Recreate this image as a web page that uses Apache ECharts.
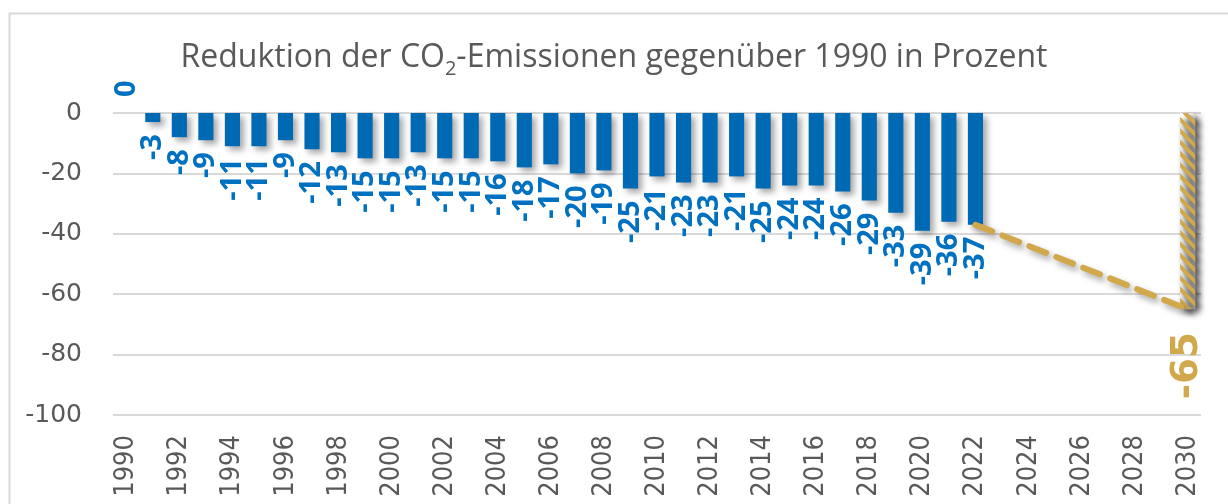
<!DOCTYPE html>
<html>
<head>
<meta charset="utf-8">
<script src="https://cdn.jsdelivr.net/npm/echarts@6/dist/echarts.min.js"></script>
<style>
  html, body { margin: 0; padding: 0; background: #fff; }
  #mychart { width: 1228px; height: 504px; }
</style>
</head>
<body>
<div id="mychart"></div>
<script>
// Jahre auf der x-Achse
let jahre = [];
for (let j = 1990; j <= 2030; j++) {
  jahre.push(String(j));
}

// Reduktion gegenüber 1990 in Prozent (1990 - 2022)
let istJahre = ['1990', '1991', '1992', '1993', '1994', '1995', '1996', '1997', '1998', '1999',
  '2000', '2001', '2002', '2003', '2004', '2005', '2006', '2007', '2008', '2009',
  '2010', '2011', '2012', '2013', '2014', '2015', '2016', '2017', '2018', '2019',
  '2020', '2021', '2022'];
let istWerte = [0, -3, -8, -9, -11, -11, -9, -12, -13, -15,
  -15, -13, -15, -15, -16, -18, -17, -20, -19, -25,
  -21, -23, -23, -21, -25, -24, -24, -26, -29, -33,
  -39, -36, -37];

// Ziel 2030
let zielJahr = '2030';
let zielWert = -65;

// Pfad vom letzten Istwert zum Ziel
let pfadJahre = ['2022', '2030'];
let pfadWerte = [-37, -65];

let yTicks = [0, -20, -40, -60, -80, -100];

let colors = {
  blue: '#0069B4',
  blueLabel: '#0070C0',
  gold: '#D1A84C',
  text: '#595959',
  grid: '#D9D9D9',
  shadow: 'rgba(0, 0, 0, 0.35)',
};

let myChart;

function buildIstData() {
  return jahre.map((y) => {
    let i = istJahre.indexOf(y);
    if (i < 0) return null;
    let v = istWerte[i];
    if (v === 0) {
      // 0-Wert steht über der Linie
      return {
        value: v,
        label: { position: 'top', align: 'left', distance: 15 },
      };
    }
    return v;
  });
}

function buildZielData() {
  return jahre.map((y) => (y === zielJahr ? zielWert : null));
}

function buildPfadData() {
  return jahre.map((y) => {
    let i = pfadJahre.indexOf(y);
    return i < 0 ? null : pfadWerte[i];
  });
}

let option = {
  animation: false,
  backgroundColor: '#fff',
  graphic: [
    {
      type: 'rect',
      left: 7,
      top: 11,
      shape: { width: 1240, height: 520 },
      style: { fill: 'none', stroke: colors.grid, lineWidth: 2 },
      silent: true,
    },
  ],
  title: {
    text: '{a|Reduktion der CO}{sub|2}{a|-Emissionen gegenüber 1990 in Prozent}',
    left: 'center',
    top: 32,
    textStyle: {
      fontWeight: 'normal',
      rich: {
        a: {
          fontFamily: 'Open Sans',
          fontWeight: 'normal',
          fontSize: 32,
          color: colors.text,
          lineHeight: 42,
        },
        sub: {
          fontFamily: 'Open Sans',
          fontWeight: 'normal',
          fontSize: 20,
          color: colors.text,
          lineHeight: 20,
          verticalAlign: 'bottom',
        },
      },
    },
  },
  grid: {
    left: 113,
    right: 27,
    top: 113,
    bottom: 89,
    containLabel: false,
  },
  xAxis: {
    type: 'category',
    data: jahre,
    axisLine: { show: false },
    axisTick: { show: false },
    axisLabel: {
      interval: 1,
      rotate: 90,
      margin: 20,
      color: colors.text,
      fontFamily: 'Liberation Sans Narrow, DejaVu Sans Condensed, Liberation Sans',
      fontSize: 27,
    },
  },
  yAxis: {
    type: 'value',
    min: yTicks[yTicks.length - 1],
    max: yTicks[0],
    interval: 20,
    axisLine: { show: false },
    axisTick: { show: false },
    axisLabel: {
      margin: 31,
      color: colors.text,
      fontFamily: 'DejaVu Sans',
      fontSize: 25,
    },
    splitLine: {
      lineStyle: { color: colors.grid, width: 2 },
    },
  },
  series: [
    {
      name: 'Ist',
      type: 'bar',
      stack: 'all',
      barWidth: '57%',
      data: buildIstData(),
      itemStyle: {
        color: colors.blue,
        shadowColor: colors.shadow,
        shadowBlur: 6,
        shadowOffsetX: 4,
        shadowOffsetY: 4,
      },
      label: {
        show: true,
        position: 'bottom',
        rotate: 90,
        align: 'right',
        verticalAlign: 'middle',
        distance: 13,
        offset: [1, 0],
        color: colors.blueLabel,
        fontFamily: 'Open Sans',
        fontWeight: 'bold',
        fontSize: 29,
      },
      z: 3,
    },
    {
      name: 'Ziel',
      type: 'bar',
      stack: 'all',
      barWidth: '62%',
      data: buildZielData(),
      itemStyle: {
        color: '#fff',
        shadowColor: colors.shadow,
        shadowBlur: 6,
        shadowOffsetX: 4,
        shadowOffsetY: 4,
        decal: {
          symbol: 'rect',
          color: colors.gold,
          dashArrayX: [1, 0],
          dashArrayY: [4, 4],
          rotation: Math.PI / 4,
        },
      },
      label: {
        show: true,
        position: 'bottom',
        rotate: 90,
        align: 'right',
        verticalAlign: 'middle',
        distance: 30,
        offset: [7, 0],
        color: colors.gold,
        fontFamily: 'DejaVu Sans',
        fontWeight: 'bold',
        fontSize: 37,
      },
      z: 3,
    },
    {
      name: 'Pfad',
      type: 'line',
      data: buildPfadData(),
      connectNulls: true,
      showSymbol: false,
      symbol: 'none',
      lineStyle: {
        color: colors.gold,
        width: 6,
        type: [18, 11],
        cap: 'round',
        shadowColor: colors.shadow,
        shadowBlur: 6,
        shadowOffsetX: 3,
        shadowOffsetY: 4,
      },
      z: 4,
    },
  ],
};

function initChart() {
  let chartDom = document.getElementById('mychart');
  myChart = echarts.init(chartDom);
  myChart.setOption(option);
}

initChart();
</script>
</body>
</html>
